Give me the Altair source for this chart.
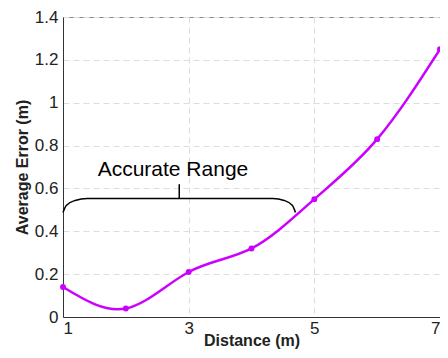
import altair as alt
import pandas as pd

# Measured data
distance = [1, 2, 3, 4, 5, 6, 7]
avg_error = [0.14, 0.04, 0.21, 0.32, 0.55, 0.83, 1.25]

# Curly-brace annotation (data coordinates)
brace_x = [1.0, 1.052, 1.193, 1.386, 2.85, 4.34, 4.52, 4.652, 4.70]
brace_y = [0.488, 0.5205, 0.544, 0.553, 0.553, 0.553, 0.544, 0.5205, 0.488]
brace_tick_x = [2.85]
brace_tick_y0 = [0.553]
brace_tick_y1 = [0.62]
label_x = [2.75]
label_y = [0.685]
label_text = ["Accurate Range"]

x_ticks = [1, 3, 5, 7]
y_ticks = [0, 0.2, 0.4, 0.6, 0.8, 1.0, 1.2, 1.4]

df = pd.DataFrame({"d": distance, "e": avg_error})
brace = pd.DataFrame({"x": brace_x, "y": brace_y, "i": list(range(len(brace_x)))})
tick = pd.DataFrame({"x": brace_tick_x, "y": brace_tick_y0, "y2": brace_tick_y1})
lab = pd.DataFrame({"x": label_x, "y": label_y, "t": label_text})

FONT = "Liberation Sans"
COLOR = "#CC00FF"

xscale = alt.Scale(domain=[1, 7], nice=False)
yscale = alt.Scale(domain=[0, 1.4], nice=False)

xaxis = alt.Axis(values=x_ticks, title="Distance (m)", labelExpr="datum.value")
yaxis = alt.Axis(values=y_ticks, title="Average Error (m)",
                 labelExpr="format(datum.value, '~g')")

line = alt.Chart(df).mark_line(color=COLOR, strokeWidth=2.5, interpolate="natural").encode(
    x=alt.X("d:Q", scale=xscale, axis=xaxis),
    y=alt.Y("e:Q", scale=yscale, axis=yaxis),
)
pts = alt.Chart(df).mark_circle(color=COLOR, size=35, opacity=1).encode(
    x=alt.X("d:Q", scale=xscale),
    y=alt.Y("e:Q", scale=yscale),
)
brace_line = alt.Chart(brace).mark_line(color="black", strokeWidth=1.5, interpolate="monotone").encode(
    x=alt.X("x:Q", scale=xscale),
    y=alt.Y("y:Q", scale=yscale),
    order="i:Q",
)
brace_tick = alt.Chart(tick).mark_rule(color="black", strokeWidth=1.5).encode(
    x=alt.X("x:Q", scale=xscale),
    y=alt.Y("y:Q", scale=yscale),
    y2="y2:Q",
)
text = alt.Chart(lab).mark_text(font=FONT, fontSize=21, color="black", align="center",
                                baseline="middle").encode(
    x=alt.X("x:Q", scale=xscale),
    y=alt.Y("y:Q", scale=yscale),
    text="t:N",
)

chart = alt.layer(line, brace_line, brace_tick, text, pts).properties(
    width=377, height=300,
    autosize=alt.AutoSizeParams(type="none"),
    padding={"left": 55, "top": 9, "right": 0, "bottom": 33},
    background="white",
).configure_view(
    stroke="#888888", strokeWidth=1
).configure_axis(
    labelFont=FONT, labelFontSize=17, labelColor="#222222",
    titleFont=FONT, titleFontSize=16, titleFontWeight="bold", titleColor="#222222",
    domainColor="#333333", domainWidth=1,
    ticks=False,
    grid=True, gridColor="#dddddd", gridDash=[6, 4], gridWidth=1,
).configure_axisY(
    labelPadding=5, titlePadding=4,
).configure_axisX(
    labelPadding=3, titlePadding=-4,
)

chart.save("out.html", embed_options={"renderer": "svg", "actions": False})
